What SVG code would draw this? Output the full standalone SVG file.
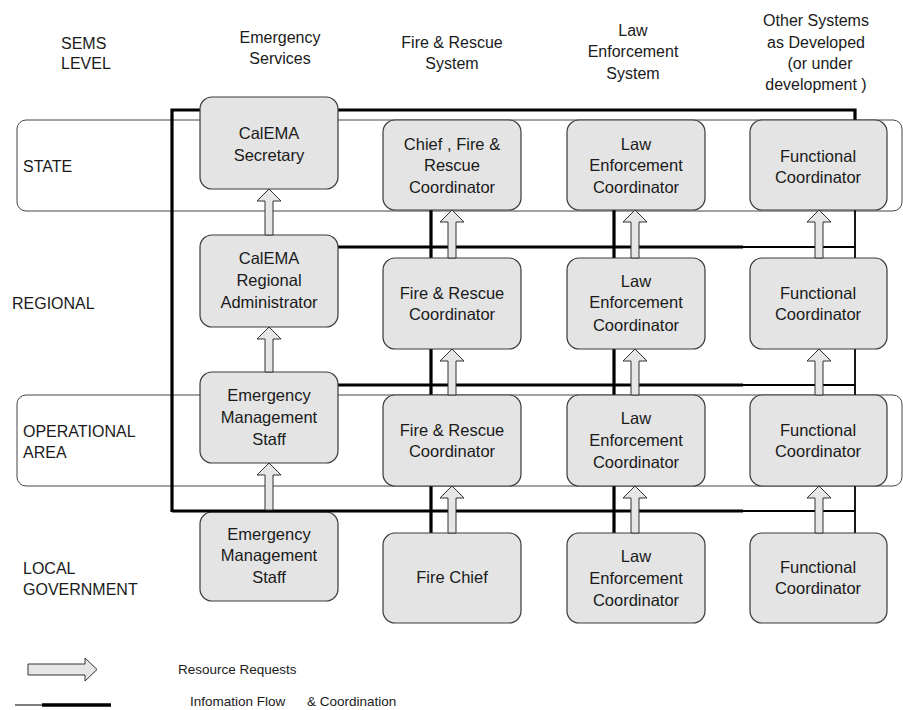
<svg xmlns="http://www.w3.org/2000/svg" width="903" height="710" viewBox="0 0 903 710">
<style>
text{font-family:"Liberation Sans",Arial,sans-serif;fill:#1a1a1a}
.h{font-size:16px;text-anchor:middle}
.lv{font-size:16px}
.bt{font-size:16.5px;text-anchor:middle}
.lg{font-size:13.5px}
.band{fill:#fff;stroke:#444;stroke-width:1}
.box{fill:#e4e4e4;stroke:#3a3a3a;stroke-width:1.2}
.arr{fill:#e6e6e6;stroke:#333;stroke-width:1}
.thk{fill:none;stroke:#000;stroke-width:3.2}
.thn{fill:none;stroke:#000;stroke-width:1.8}
</style>
<rect width="903" height="710" fill="#fff"/>
<g id="headers">
<text class="lv" x="61" y="49">SEMS</text>
<text class="lv" x="61" y="69">LEVEL</text>
<text class="h" x="280" y="43">Emergency</text>
<text class="h" x="280" y="64">Services</text>
<text class="h" x="452" y="48">Fire &amp; Rescue</text>
<text class="h" x="452" y="69">System</text>
<text class="h" x="633" y="36">Law</text>
<text class="h" x="633" y="57">Enforcement</text>
<text class="h" x="633" y="79">System</text>
<text class="h" x="816" y="26">Other Systems</text>
<text class="h" x="816" y="48">as Developed</text>
<text class="h" x="820" y="69">(or under</text>
<text class="h" x="816" y="90">development )</text>
</g>
<g id="bands">
<rect class="band" x="17" y="120" width="885" height="91" rx="9"/>
<rect class="band" x="17" y="395" width="885" height="91" rx="9"/>
</g>
<g id="levels">
<text class="lv" x="23" y="172">STATE</text>
<text class="lv" x="12" y="309">REGIONAL</text>
<text class="lv" x="23" y="437">OPERATIONAL</text>
<text class="lv" x="23" y="458">AREA</text>
<text class="lv" x="23" y="574">LOCAL</text>
<text class="lv" x="23" y="595">GOVERNMENT</text>
</g>
<g id="connectors">
<path class="thk" d="M172,512 V110 H855 V121"/>
<path class="thk" d="M300,247 H743 M300,385 H743 M431,210 V533 M614,210 V533"/>
<path class="thn" d="M743,247 H855 M743,385 H855 M743,511 H855 M855,121 V533"/>
</g>
<g id="es-state"><rect class="box" x="200" y="97" width="138" height="92" rx="12"/><text class="bt" x="269" y="139">CalEMA</text><text class="bt" x="269" y="161">Secretary</text></g>
<g id="es-regional"><rect class="box" x="200" y="235" width="138" height="92" rx="12"/><text class="bt" x="269" y="264">CalEMA</text><text class="bt" x="269" y="286">Regional</text><text class="bt" x="269" y="308">Administrator</text></g>
<g id="es-oa"><rect class="box" x="200" y="372" width="138" height="91" rx="12"/><text class="bt" x="269" y="401">Emergency</text><text class="bt" x="269" y="423">Management</text><text class="bt" x="269" y="445">Staff</text></g>
<g id="es-local"><rect class="box" x="200" y="512" width="138" height="89" rx="12"/><text class="bt" x="269" y="540">Emergency</text><text class="bt" x="269" y="561">Management</text><text class="bt" x="269" y="583">Staff</text></g>
<path class="thk" d="M172,511 H743"/>
<g id="fire-state"><rect class="box" x="383" y="120" width="138" height="90" rx="12"/><text class="bt" x="452" y="150">Chief , Fire &amp;</text><text class="bt" x="452" y="171">Rescue</text><text class="bt" x="452" y="193">Coordinator</text></g>
<g id="fire-regional"><rect class="box" x="383" y="258" width="138" height="91" rx="12"/><text class="bt" x="452" y="299">Fire &amp; Rescue</text><text class="bt" x="452" y="320">Coordinator</text></g>
<g id="fire-oa"><rect class="box" x="383" y="395" width="138" height="91" rx="12"/><text class="bt" x="452" y="436">Fire &amp; Rescue</text><text class="bt" x="452" y="457">Coordinator</text></g>
<g id="fire-local"><rect class="box" x="383" y="533" width="138" height="90" rx="12"/><text class="bt" x="452" y="583">Fire Chief</text></g>
<g id="law-state"><rect class="box" x="567" y="120" width="138" height="90" rx="12"/><text class="bt" x="636" y="150">Law</text><text class="bt" x="636" y="171">Enforcement</text><text class="bt" x="636" y="193">Coordinator</text></g>
<g id="law-regional"><rect class="box" x="567" y="258" width="138" height="91" rx="12"/><text class="bt" x="636" y="287">Law</text><text class="bt" x="636" y="308">Enforcement</text><text class="bt" x="636" y="331">Coordinator</text></g>
<g id="law-oa"><rect class="box" x="567" y="395" width="138" height="91" rx="12"/><text class="bt" x="636" y="424">Law</text><text class="bt" x="636" y="446">Enforcement</text><text class="bt" x="636" y="468">Coordinator</text></g>
<g id="law-local"><rect class="box" x="567" y="533" width="138" height="90" rx="12"/><text class="bt" x="636" y="562">Law</text><text class="bt" x="636" y="584">Enforcement</text><text class="bt" x="636" y="606">Coordinator</text></g>
<g id="func-state"><rect class="box" x="750" y="120" width="137" height="90" rx="12"/><text class="bt" x="818" y="162">Functional</text><text class="bt" x="818" y="183">Coordinator</text></g>
<g id="func-regional"><rect class="box" x="750" y="258" width="137" height="91" rx="12"/><text class="bt" x="818" y="299">Functional</text><text class="bt" x="818" y="320">Coordinator</text></g>
<g id="func-oa"><rect class="box" x="750" y="395" width="137" height="91" rx="12"/><text class="bt" x="818" y="436">Functional</text><text class="bt" x="818" y="457">Coordinator</text></g>
<g id="func-local"><rect class="box" x="750" y="533" width="137" height="90" rx="12"/><text class="bt" x="818" y="573">Functional</text><text class="bt" x="818" y="594">Coordinator</text></g>
<g id="arrows">
<path class="arr" d="M265,235 V201 H257 L269,189 L281,201 H273 V235 Z"/>
<path class="arr" d="M265,372 V339 H257 L269,327 L281,339 H273 V372 Z"/>
<path class="arr" d="M265,510 V475 H257 L269,463 L281,475 H273 V510 Z"/>
<path class="arr" d="M448,258 V222 H440 L452,210 L464,222 H456 V258 Z"/>
<path class="arr" d="M448,395 V361 H440 L452,349 L464,361 H456 V395 Z"/>
<path class="arr" d="M448,533 V498 H440 L452,486 L464,498 H456 V533 Z"/>
<path class="arr" d="M631,258 V222 H623 L635,210 L647,222 H639 V258 Z"/>
<path class="arr" d="M631,395 V361 H623 L635,349 L647,361 H639 V395 Z"/>
<path class="arr" d="M631,533 V498 H623 L635,486 L647,498 H639 V533 Z"/>
<path class="arr" d="M815,258 V222 H807 L819,210 L831,222 H823 V258 Z"/>
<path class="arr" d="M815,395 V361 H807 L819,349 L831,361 H823 V395 Z"/>
<path class="arr" d="M815,533 V498 H807 L819,486 L831,498 H823 V533 Z"/>
</g>
<g id="legend">
<path class="arr" d="M28,664 H85 V658 L97,669.5 L85,681 V675 H28 Z"/>
<text class="lg" x="178" y="674">Resource Requests</text>
<path d="M15,705 H42" stroke="#000" stroke-width="1"/>
<path d="M42,705 H111" stroke="#000" stroke-width="3.5"/>
<text class="lg" x="190" y="706">Infomation Flow</text>
<text class="lg" x="307" y="706">&amp; Coordination</text>
</g>
</svg>
